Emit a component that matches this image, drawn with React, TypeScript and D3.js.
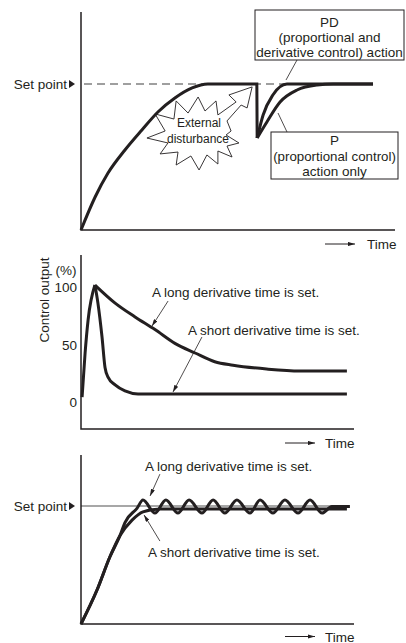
import React, { useEffect, useRef } from "react"
import * as d3 from "d3"

// Top chart: process value, disturbance at t = 56
const riseTime = [0, 4.5, 8.6, 14, 19.4, 24.5, 29.9, 35.4, 40.4, 56, 56.1]
const riseValue = [0, 22.6, 39, 54.8, 68.5, 80.8, 90.4, 97.3, 100, 100, 63]
const pdTime = [56.1, 58, 61.1, 65.6, 93]
const pdValue = [63, 78.8, 92.5, 100, 100]
const pTime = [56.1, 59.2, 63.4, 68.8, 75.2, 80.3, 93]
const pValue = [63, 74, 87.7, 95.9, 99.3, 100, 100]
// outline of the "External disturbance" burst, in the same units
const burstTime = [21, 26.8, 23.6, 29.6, 30.3, 34.1, 37.3, 39.5, 43, 43.6, 49.4, 47.1, 54.5, 52.9, 51, 46.5, 47.8, 46.2, 50.3, 46.5, 48.1, 43.6, 43.6, 40.1, 37.6, 35, 30.3, 30.9, 25.2, 27.7]
const burstValue = [63, 67.8, 79.5, 76, 88.4, 80.1, 91.1, 81.5, 88.4, 78.8, 87.7, 92.5, 98, 83.6, 85.6, 74.7, 67.8, 65.1, 59.6, 57.5, 50, 54.1, 45.2, 51.4, 41.1, 50.7, 44.5, 53.4, 52.1, 59.6]

// Middle chart: control output (%)
const outTicks = [0, 50, 100]
const outRiseTime = [0.4, 1.5, 2.6, 5.1]
const outRiseValue = [4.3, 42.6, 71.3, 101.7]
const longOutTime = [5.1, 12.5, 19.8, 27.1, 34.4, 41.8, 49, 55.7, 68, 80.2, 97.4]
const longOutValue = [101.7, 86, 74, 63, 51, 42.6, 35, 32, 28.7, 27, 27]
const shortOutTime = [5.1, 6.2, 7.7, 8.8, 9.9, 12.5, 16.1, 20.9, 97.4]
const shortOutValue = [101.7, 86, 56.5, 30, 21.7, 14.8, 9.6, 7, 7]

// Bottom chart: response for long / short derivative time
const longRespTime = [0, 5.9, 10.6, 14.3, 16.1, 20.5, 22.7, 27.1, 31.1, 35.5, 39.6, 44.3, 48.4, 52.7, 57.1, 61.9, 65.6, 70.3, 74.7, 79.5, 83.9, 88.3, 91.9, 98.5]
const longRespValue = [0, 29, 57, 75, 86, 98, 105, 94, 105, 94, 105, 94, 105, 94, 105, 94, 105, 94, 105, 94, 105, 94, 99.5, 99.5]
const shortRespTime = [0, 5.9, 10.6, 14.3, 18.7, 22.7, 28.9, 97.4]
const shortRespValue = [0, 29, 57, 75, 88, 95, 97.5, 97.5]

const W = 406
const H = 643
const INK = "#231f20"
const FONT = "'Liberation Sans', Arial, sans-serif"

const zip = (a: number[], b: number[]): [number, number][] => a.map((t, i) => [t, b[i]])

const App = () => {
	const ref = useRef<SVGSVGElement>(null)

	useEffect(() => {
		const svg = d3.select(ref.current)
		svg.selectAll("*").remove()

		const defs = svg.append("defs")
		defs
			.append("marker")
			.attr("id", "tip")
			.attr("viewBox", "0 0 10 6")
			.attr("refX", 10)
			.attr("refY", 3)
			.attr("markerWidth", 7)
			.attr("markerHeight", 4.2)
			.attr("markerUnits", "userSpaceOnUse")
			.attr("orient", "auto")
			.append("path")
			.attr("d", "M0,0L10,3L0,6Z")
			.attr("fill", INK)

		const text = (x: number, y: number, s: string, anchor = "start", size = 13.5) =>
			svg
				.append("text")
				.attr("x", x)
				.attr("y", y)
				.attr("text-anchor", anchor)
				.style("font-family", FONT)
				.style("font-size", size + "px")
				.style("fill", INK)
				.text(s)

		const frame = (left: number, top: number, right: number, bottom: number) => {
			svg
				.append("path")
				.attr("d", `M${left},${top}V${bottom}H${right}`)
				.attr("fill", "none")
				.attr("stroke", INK)
				.attr("stroke-width", 1.5)
		}

		const timeArrow = (x0: number, x1: number, y: number, tx: number) => {
			svg
				.append("line")
				.attr("x1", x0)
				.attr("x2", x1)
				.attr("y1", y)
				.attr("y2", y)
				.attr("stroke", INK)
				.attr("stroke-width", 1)
				.attr("marker-end", "url(#tip)")
			text(tx, y + 5, "Time")
		}

		const setPoint = (y: number) => {
			text(67, y + 4.5, "Set point", "end")
			svg
				.append("path")
				.attr("d", `M69,${y - 4}L75,${y}L69,${y + 4}Z`)
				.attr("fill", INK)
		}

		const leader = (x0: number, y0: number, x1: number, y1: number, arrow: boolean) => {
			svg
				.append("line")
				.attr("x1", x0)
				.attr("y1", y0)
				.attr("x2", x1)
				.attr("y2", y1)
				.attr("stroke", INK)
				.attr("stroke-width", 0.8)
				.attr("marker-end", arrow ? "url(#tip)" : null)
		}

		const curve = (
			x: d3.ScaleLinear<number, number>,
			y: d3.ScaleLinear<number, number>,
			pts: [number, number][],
			width = 3,
		) =>
			svg
				.append("path")
				.datum(pts)
				.attr("fill", "none")
				.attr("stroke", INK)
				.attr("stroke-width", width)
				.attr("stroke-linejoin", "miter")
				.attr(
					"d",
					d3
						.line<[number, number]>()
						.x(d => x(d[0]))
						.y(d => y(d[1]))
						.curve(d3.curveMonotoneX),
				)

		// ---- top chart
		const x1 = d3.scaleLinear().domain([0, 100]).range([81, 395])
		const y1 = d3.scaleLinear().domain([0, 150]).range([230, 11])

		svg
			.append("line")
			.attr("x1", 84)
			.attr("x2", x1(65.6))
			.attr("y1", y1(100))
			.attr("y2", y1(100))
			.attr("stroke", "#808080")
			.attr("stroke-width", 1.3)
			.attr("stroke-dasharray", "8,5")
		frame(81, 12, 395, 230)
		setPoint(y1(100))

		svg
			.append("path")
			.datum(zip(burstTime, burstValue))
			.attr("d", d => "M" + d.map(p => `${x1(p[0])},${y1(p[1])}`).join("L") + "Z")
			.attr("fill", "#fff")
			.attr("stroke", INK)
			.attr("stroke-width", 0.9)
		text(199, 126.5, "External", "middle", 12)
		text(198, 142.5, "disturbance", "middle", 12)

		curve(x1, y1, zip(riseTime, riseValue))
		curve(x1, y1, zip(pdTime, pdValue))
		curve(x1, y1, zip(pTime, pValue))

		svg
			.append("rect")
			.attr("x", 255)
			.attr("y", 10)
			.attr("width", 149)
			.attr("height", 50)
			.attr("fill", "#fff")
			.attr("stroke", INK)
			.attr("stroke-width", 1)
		text(329.5, 26.5, "PD", "middle")
		text(329.5, 41.5, "(proportional and", "middle")
		text(329.5, 56.5, "derivative control) action", "middle")
		leader(297, 60, 286, 80, false)

		svg
			.append("rect")
			.attr("x", 271)
			.attr("y", 132)
			.attr("width", 127)
			.attr("height", 47)
			.attr("fill", "#fff")
			.attr("stroke", INK)
			.attr("stroke-width", 1)
		text(334.5, 145, "P", "middle")
		text(334.5, 160.5, "(proportional control)", "middle", 13.3)
		text(334.5, 175.5, "action only", "middle")
		leader(287, 132, 278, 113, false)

		timeArrow(325, 355, 244, 367)

		// ---- middle chart
		const x2 = d3.scaleLinear().domain([0, 100]).range([81, 354])
		const y2 = d3.scaleLinear().domain([0, 100]).range([402, 287])

		frame(81, 255, 354, 429)
		outTicks.forEach(v => text(77, y2(v) + 5, String(v), "end"))
		text(66, 274.5, "(%)", "middle")
		svg
			.append("text")
			.attr("transform", "translate(49,300) rotate(-90)")
			.attr("text-anchor", "middle")
			.style("font-family", FONT)
			.style("font-size", "13.5px")
			.style("fill", INK)
			.text("Control output")

		curve(x2, y2, zip(outRiseTime, outRiseValue))
		curve(x2, y2, zip(longOutTime, longOutValue))
		curve(x2, y2, zip(shortOutTime, shortOutValue))

		text(x2(26), y2(91.3), "A long derivative time is set.")
		leader(x2(31.9), y2(87.8), x2(26), y2(66), true)
		text(x2(39.2), y2(58.3), "A short derivative time is set.")
		leader(x2(44.3), y2(56.5), x2(33.7), y2(8.7), true)

		timeArrow(285, 315, 443, 325)

		// ---- bottom chart
		const x3 = d3.scaleLinear().domain([0, 100]).range([81, 354])
		const y3 = d3.scaleLinear().domain([0, 100]).range([624, 506])

		svg
			.append("line")
			.attr("x1", 81)
			.attr("x2", x3(97.4))
			.attr("y1", y3(100))
			.attr("y2", y3(100))
			.attr("stroke", "#8a8a8a")
			.attr("stroke-width", 1.5)
		frame(81, 455, 354, 624)
		setPoint(y3(100))

		curve(x3, y3, zip(longRespTime, longRespValue))
		curve(x3, y3, zip(shortRespTime, shortRespValue))

		text(x3(23.4), y3(129.7), "A long derivative time is set.")
		leader(x3(28.9), y3(127), x3(25.3), y3(108.5), true)
		text(x3(24.5), y3(56.8), "A short derivative time is set.")
		leader(x3(28.9), y3(70.3), x3(23.1), y3(92.4), true)

		timeArrow(285, 315, 636.5, 325)
	}, [])

	return (
		<svg
			ref={ref}
			width={W}
			height={H}
			style={{ position: "absolute", left: 0, top: 0, background: "#fff" }}
		></svg>
	)
}

export default App
